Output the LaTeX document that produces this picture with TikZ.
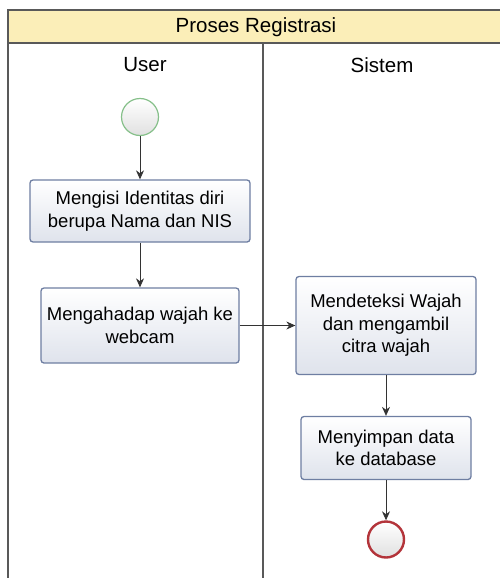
\documentclass[tikz,border=0pt]{standalone}
\usepackage{fontspec}
\setmainfont{Liberation Sans}
\usetikzlibrary{positioning}
\usetikzlibrary{arrows.meta}
\definecolor{poolyellow}{HTML}{FBEEB8}
\definecolor{actborder}{HTML}{6E7EA2}
\definecolor{actfill}{HTML}{DFE3EC}
\definecolor{startgreen}{HTML}{86C08A}
\definecolor{endred}{HTML}{B3343A}
\tikzset{ADstyle/.style={
    x=1pt, y=-1pt,% pixel grid, y pointing down
    node distance=90pt,% grid size
    on grid,% arrange nodes on a grid
    >={Stealth[length=9pt,width=8pt]},
    thick,
    draw=black!80
  },
  lane/.style={draw=black!65, line width=1.6pt},
  lanetitle/.style={font=\fontsize{20.5}{24}\selectfont},
  activity/.style={% appearance of the action boxes
    draw=actborder,
    line width=1.3pt,
    rounded corners=3pt,
    top color=white,
    bottom color=actfill,
    align=center,
    inner sep=0pt,
    font=\fontsize{18.5}{22.5}\selectfont
  },
  startstate/.style={circle, draw=startgreen, line width=1.2pt,
    top color=white, bottom color=black!12, minimum size=37pt, inner sep=0pt},
  endstate/.style={circle, draw=endred, line width=2.4pt,
    top color=white, bottom color=black!12, minimum size=36pt, inner sep=0pt}
}

\begin{document}
\begin{tikzpicture}[ADstyle]
  \useasboundingbox (0,0) rectangle (500,578);
  % pool and lanes
  \fill[poolyellow] (8,10) rectangle (520,43);
  \draw[lane] (520,10) -- (8,10) -- (8,578);
  \draw[lane] (8,43) -- (520,43);
  \draw[lane] (263,43) -- (263,578);
  \node[lanetitle] (pool) at (256,27) {Proses Registrasi};
  \node[lanetitle] (user) at (145,65) {User};
  \node[lanetitle] (sistem) at (382,65) {Sistem};

  \node[startstate] (start) at (140,117) {};
  \node[activity,minimum width=220pt,minimum height=62pt,below=94pt of start] (isi)
    {Mengisi Identitas diri\\berupa Nama dan NIS};
  \node[activity,minimum width=198pt,minimum height=75pt,below=114.5pt of isi] (hadap)
    {Mengahadap wajah ke\\webcam};
  \node[activity,minimum width=180pt,minimum height=98pt,right=246pt of hadap] (deteksi)
    {Mendeteksi Wajah\\dan mengambil\\citra wajah};
  \node[activity,minimum width=170pt,minimum height=63pt,below=122.5pt of deteksi] (simpan)
    {Menyimpan data\\ke database};
  \node[endstate,below=91.5pt of simpan] (end) {};

  \path[->] (start) edge (isi)
            (isi) edge (hadap)
            (hadap) edge (deteksi)
            (deteksi) edge (simpan)
            (simpan) edge (end)
  ;
\end{tikzpicture}
\end{document}
